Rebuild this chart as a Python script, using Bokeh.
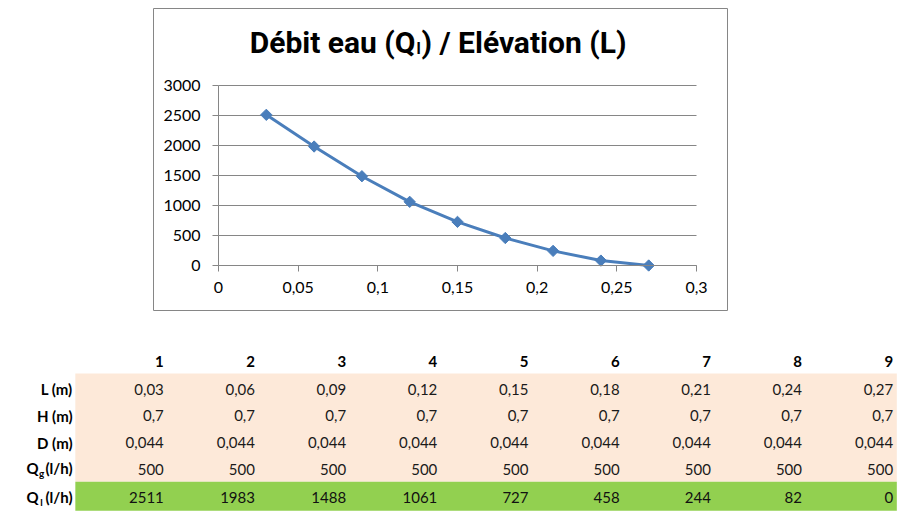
from math import pi
from bokeh.plotting import figure
from bokeh.layouts import column, row
from bokeh.models import (Range1d, FixedTicker, CustomJSTickFormatter, LinearAxis,
                          ColumnDataSource, Spacer)
from bokeh.core.properties import value
from bokeh.embed import file_html
from bokeh.resources import INLINE

# ---------------- data ----------------
COLUMNS = [1, 2, 3, 4, 5, 6, 7, 8, 9]
L_M = [0.03, 0.06, 0.09, 0.12, 0.15, 0.18, 0.21, 0.24, 0.27]
H_M = [0.7, 0.7, 0.7, 0.7, 0.7, 0.7, 0.7, 0.7, 0.7]
D_M = [0.044, 0.044, 0.044, 0.044, 0.044, 0.044, 0.044, 0.044, 0.044]
QG_LH = [500, 500, 500, 500, 500, 500, 500, 500, 500]
QL_LH = [2511, 1983, 1488, 1061, 727, 458, 244, 82, 0]
X_TICKS = [0, 0.05, 0.1, 0.15, 0.2, 0.25, 0.3]
Y_TICKS = [0, 500, 1000, 1500, 2000, 2500, 3000]
TITLE_PARTS = ["Débit eau (Q", "l", ") / Elévation (L)"]
ROW_LABELS = ["L (m)", "H (m)", "D (m)"]
SUB_LABELS = [("Q", "g", "(l/h)"), ("Q", "l", "(l/h)")]

FONT = "Lato"
TITLE_FONT = "Roboto"
GRID = "#868686"
BLUE = "#4A7EBB"
PEACH = "#FDE9D9"
GREEN = "#92D050"

def fmt(v):
    return str(v).replace(".", ",")

# ---------------- chart (frame = whole chart box) ----------------
CW, CH = 575, 303
X0, X1 = X_TICKS[0], X_TICKS[-1]
Y0, Y1 = Y_TICKS[0], Y_TICKS[-1]
PX0, PX1 = 65, 543     # box pixels of x = X0, X1
PY0, PY1 = 257, 77     # box pixels of y = Y0, Y1
SX = (X1 - X0) / (PX1 - PX0)
SY = (Y1 - Y0) / (PY0 - PY1)

def cx(px):
    return X0 + (px - PX0) * SX

def cy(py):
    return Y0 + (PY0 - py) * SY

p = figure(width=CW, height=CH,
           x_range=Range1d(cx(0), cx(CW)), y_range=Range1d(cy(CH), cy(0)),
           x_axis_type=None, y_axis_type=None, min_border=0,
           output_backend="svg", toolbar_location=None, title=None)
p.outline_line_color = GRID
p.outline_line_width = 1
p.background_fill_color = "white"
p.border_fill_color = "white"
p.xgrid.visible = False
p.ygrid.visible = False

xax = LinearAxis(fixed_location=Y0, bounds=(X0, X1), ticker=FixedTicker(ticks=X_TICKS),
                 formatter=CustomJSTickFormatter(code="return tick.toString().replace('.', ',');"))
yax = LinearAxis(fixed_location=X0, bounds=(Y0, Y1), ticker=FixedTicker(ticks=Y_TICKS))
for ax in (xax, yax):
    ax.axis_line_color = GRID
    ax.major_tick_line_color = GRID
    ax.major_tick_in = 0
    ax.major_tick_out = 6
    ax.minor_tick_line_color = None
    ax.major_label_text_font = FONT
    ax.major_label_text_font_size = "16px"
    ax.major_label_text_color = "black"
xax.major_label_standoff = 10
yax.major_label_standoff = 12
p.add_layout(xax, "below")
p.add_layout(yax, "left")

# horizontal gridlines at the y ticks, spanning the x axis extent
n_y = len(Y_TICKS)
p.segment(x0=[X0] * n_y, x1=[X1] * n_y, y0=Y_TICKS, y1=Y_TICKS,
          line_color=GRID, line_width=1)

src = ColumnDataSource(dict(x=L_M, y=QL_LH))
p.line("x", "y", source=src, line_color=BLUE, line_width=3, line_join="round")
p.scatter("x", "y", source=src, marker="square", angle=pi / 4, size=8,
          fill_color=BLUE, line_color=BLUE)

# title pieces (Q with subscript l)
title_common = dict(text_font=value(TITLE_FONT), text_font_style="bold", text_color="black",
                    text_baseline="alphabetic")
p.text(x=[cx(262)], y=[cy(34)], text=[TITLE_PARTS[0]], text_align="right",
       text_font_size="30px", **title_common)
p.text(x=[cx(265)], y=[cy(40)], text=[TITLE_PARTS[1]], text_align="center",
       text_font_size="16px", **title_common)
p.text(x=[cx(268)], y=[cy(34)], text=[TITLE_PARTS[2]], text_align="left",
       text_font_size="30px", **title_common)

# ---------------- table ----------------
TW, TH = 900, 204
COL0, COLW = 72.1, 91.175
ROW0, ROWH = 50, 26.7

t = figure(width=TW, height=TH, output_backend="svg", toolbar_location=None, title=None,
           x_range=Range1d(-COL0 / COLW, (TW - COL0) / COLW),
           y_range=Range1d((TH - ROW0) / ROWH, -ROW0 / ROWH),
           x_axis_type=None, y_axis_type=None, min_border=0)
t.outline_line_color = None
t.xgrid.visible = False
t.ygrid.visible = False

n = len(COLUMNS)
t.quad(left=[0.03], right=[n + 0.04], top=[0.45], bottom=[4.5], fill_color=PEACH, line_color=None)
t.quad(left=[0.03], right=[n + 0.04], top=[4.5], bottom=[5.59], fill_color=GREEN, line_color=None)

common = dict(text_font=value(FONT), text_font_size="15px", text_align="right",
              text_baseline="middle")

t.text(x=COLUMNS, y=[0] * n, text=[str(c) for c in COLUMNS], text_font_style="bold",
       text_color="black", **common)

rows = [L_M, H_M, D_M, QG_LH]
for r, vals in enumerate(rows, start=1):
    t.text(x=COLUMNS, y=[r] * n, text=[fmt(v) for v in vals], text_color="#1a1a1a",
           y_offset=1, **common)
t.text(x=COLUMNS, y=[5.08] * n, text=[fmt(v) for v in QL_LH], text_color="#111111",
       **common)

for r, lab in enumerate(ROW_LABELS, start=1):
    t.text(x=[0], y=[r], text=[lab], text_font_style="bold", text_color="black",
           y_offset=1, **common)
for (main, sub, unit), r in zip(SUB_LABELS, [4, 5.08]):
    t.text(x=[0], y=[r], text=[unit], text_font_style="bold", text_color="black", **common)
    t.text(x=[0], y=[r], text=[sub], text_font=value(FONT), text_font_size="10px",
           text_font_style="bold", text_align="center", text_baseline="middle",
           x_offset=-31, y_offset=5, text_color="black")
    t.text(x=[0], y=[r], text=[main], text_font_style="bold", text_color="black",
           x_offset=-34, **common)

layout = column(Spacer(width=10, height=8), row(Spacer(width=153, height=CH), p), t)
open("out.html", "w").write(file_html(layout, INLINE, "chart"))
